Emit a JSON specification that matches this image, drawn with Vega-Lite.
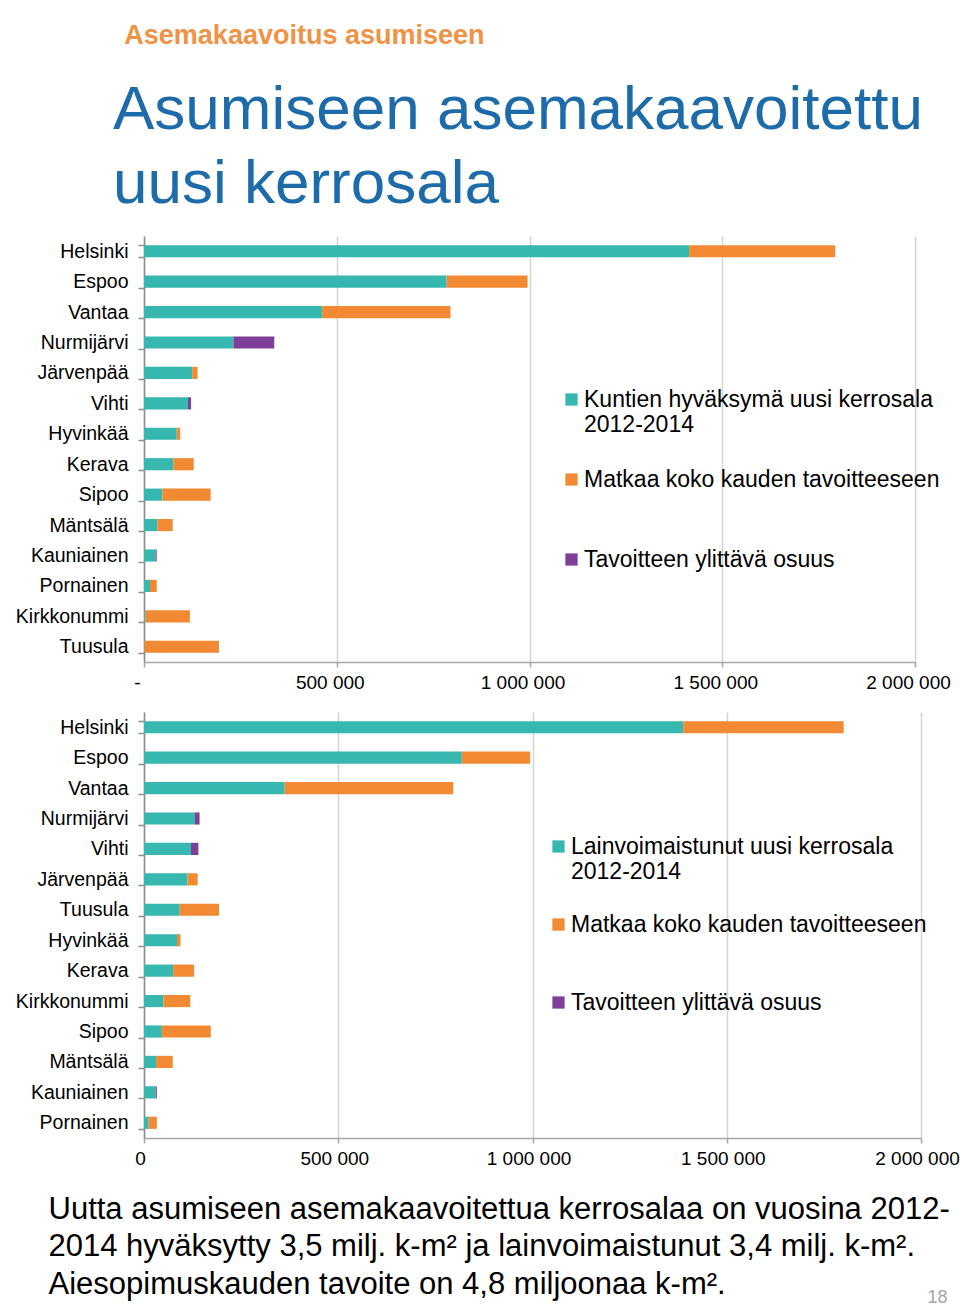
{
  "$schema": "https://vega.github.io/schema/vega-lite/v6.json",
  "background": "white",
  "padding": {"left": 15, "top": 22, "right": 0, "bottom": 0},
  "config": {
    "font": "Liberation Sans",
    "view": {"stroke": null},
    "locale": {"number": {"decimal": ",", "thousands": " ", "grouping": [3], "currency": ["", " €"]}},
    "axisY": {
      "title": null, "labelFontSize": 19.5, "labelColor": "#000000", "labelPadding": 10,
      "tickSize": 6, "tickColor": "#8C8C8C", "tickWidth": 1.5, "domainColor": "#8C8C8C", "domainWidth": 1.5,
      "tickBand": "extent", "grid": false
    },
    "axisX": {
      "labelFontSize": 19, "labelColor": "#000000", "labelPadding": 6, "tickSize": 5, "labelOverlap": false, "labelFlush": false,
      "tickColor": "#A6A6A6", "tickWidth": 1.5, "domainColor": "#A6A6A6", "domainWidth": 1.5,
      "grid": true, "gridColor": "#D4D4D4", "gridWidth": 1.5
    },
    "legend": {
      "orient": "none", "title": null, "labelFontSize": 23, "labelColor": "#000000",
      "symbolType": "square", "symbolSize": 150, "symbolStrokeWidth": 0, "labelLimit": 600,
      "labelOffset": 1, "rowPadding": 30, "gridAlign": "all"
    }
  },
  "title": {
    "text": "Asemakaavoitus asumiseen",
    "anchor": "start", "frame": "bounds", "dx": 109, "fontSize": 27, "fontWeight": "bold",
    "color": "#EF9346", "offset": 29
  },
  "datasets": {
    "hyvaksytty": [
      {"kunta": "Helsinki", "sarja": "Kuntien hyväksymä uusi kerrosala 2012-2014", "jarj": 1, "arvo": 1414000},
      {"kunta": "Helsinki", "sarja": "Matkaa koko kauden tavoitteeseen", "jarj": 2, "arvo": 379000},
      {"kunta": "Espoo", "sarja": "Kuntien hyväksymä uusi kerrosala 2012-2014", "jarj": 1, "arvo": 785000},
      {"kunta": "Espoo", "sarja": "Matkaa koko kauden tavoitteeseen", "jarj": 2, "arvo": 210000},
      {"kunta": "Vantaa", "sarja": "Kuntien hyväksymä uusi kerrosala 2012-2014", "jarj": 1, "arvo": 462000},
      {"kunta": "Vantaa", "sarja": "Matkaa koko kauden tavoitteeseen", "jarj": 2, "arvo": 333000},
      {"kunta": "Nurmijärvi", "sarja": "Kuntien hyväksymä uusi kerrosala 2012-2014", "jarj": 1, "arvo": 232000},
      {"kunta": "Nurmijärvi", "sarja": "Tavoitteen ylittävä osuus", "jarj": 3, "arvo": 106000},
      {"kunta": "Järvenpää", "sarja": "Kuntien hyväksymä uusi kerrosala 2012-2014", "jarj": 1, "arvo": 125000},
      {"kunta": "Järvenpää", "sarja": "Matkaa koko kauden tavoitteeseen", "jarj": 2, "arvo": 14000},
      {"kunta": "Vihti", "sarja": "Kuntien hyväksymä uusi kerrosala 2012-2014", "jarj": 1, "arvo": 114000},
      {"kunta": "Vihti", "sarja": "Tavoitteen ylittävä osuus", "jarj": 3, "arvo": 8000},
      {"kunta": "Hyvinkää", "sarja": "Kuntien hyväksymä uusi kerrosala 2012-2014", "jarj": 1, "arvo": 85000},
      {"kunta": "Hyvinkää", "sarja": "Matkaa koko kauden tavoitteeseen", "jarj": 2, "arvo": 9000},
      {"kunta": "Kerava", "sarja": "Kuntien hyväksymä uusi kerrosala 2012-2014", "jarj": 1, "arvo": 76000},
      {"kunta": "Kerava", "sarja": "Matkaa koko kauden tavoitteeseen", "jarj": 2, "arvo": 53000},
      {"kunta": "Sipoo", "sarja": "Kuntien hyväksymä uusi kerrosala 2012-2014", "jarj": 1, "arvo": 47500},
      {"kunta": "Sipoo", "sarja": "Matkaa koko kauden tavoitteeseen", "jarj": 2, "arvo": 125500},
      {"kunta": "Mäntsälä", "sarja": "Kuntien hyväksymä uusi kerrosala 2012-2014", "jarj": 1, "arvo": 34500},
      {"kunta": "Mäntsälä", "sarja": "Matkaa koko kauden tavoitteeseen", "jarj": 2, "arvo": 40000},
      {"kunta": "Kauniainen", "sarja": "Kuntien hyväksymä uusi kerrosala 2012-2014", "jarj": 1, "arvo": 30300},
      {"kunta": "Kauniainen", "sarja": "Tavoitteen ylittävä osuus", "jarj": 3, "arvo": 2700},
      {"kunta": "Pornainen", "sarja": "Kuntien hyväksymä uusi kerrosala 2012-2014", "jarj": 1, "arvo": 15600},
      {"kunta": "Pornainen", "sarja": "Matkaa koko kauden tavoitteeseen", "jarj": 2, "arvo": 17400},
      {"kunta": "Kirkkonummi", "sarja": "Kuntien hyväksymä uusi kerrosala 2012-2014", "jarj": 1, "arvo": 3400},
      {"kunta": "Kirkkonummi", "sarja": "Matkaa koko kauden tavoitteeseen", "jarj": 2, "arvo": 115600},
      {"kunta": "Tuusula", "sarja": "Kuntien hyväksymä uusi kerrosala 2012-2014", "jarj": 1, "arvo": 1000},
      {"kunta": "Tuusula", "sarja": "Matkaa koko kauden tavoitteeseen", "jarj": 2, "arvo": 193500}
    ],
    "lainvoimainen": [
      {"kunta": "Helsinki", "sarja": "Lainvoimaistunut uusi kerrosala 2012-2014", "jarj": 1, "arvo": 1388000},
      {"kunta": "Helsinki", "sarja": "Matkaa koko kauden tavoitteeseen", "jarj": 2, "arvo": 413000},
      {"kunta": "Espoo", "sarja": "Lainvoimaistunut uusi kerrosala 2012-2014", "jarj": 1, "arvo": 818000},
      {"kunta": "Espoo", "sarja": "Matkaa koko kauden tavoitteeseen", "jarj": 2, "arvo": 176000},
      {"kunta": "Vantaa", "sarja": "Lainvoimaistunut uusi kerrosala 2012-2014", "jarj": 1, "arvo": 362000},
      {"kunta": "Vantaa", "sarja": "Matkaa koko kauden tavoitteeseen", "jarj": 2, "arvo": 434000},
      {"kunta": "Nurmijärvi", "sarja": "Lainvoimaistunut uusi kerrosala 2012-2014", "jarj": 1, "arvo": 131000},
      {"kunta": "Nurmijärvi", "sarja": "Tavoitteen ylittävä osuus", "jarj": 3, "arvo": 12000},
      {"kunta": "Vihti", "sarja": "Lainvoimaistunut uusi kerrosala 2012-2014", "jarj": 1, "arvo": 121000},
      {"kunta": "Vihti", "sarja": "Tavoitteen ylittävä osuus", "jarj": 3, "arvo": 19000},
      {"kunta": "Järvenpää", "sarja": "Lainvoimaistunut uusi kerrosala 2012-2014", "jarj": 1, "arvo": 112000},
      {"kunta": "Järvenpää", "sarja": "Matkaa koko kauden tavoitteeseen", "jarj": 2, "arvo": 26000},
      {"kunta": "Tuusula", "sarja": "Lainvoimaistunut uusi kerrosala 2012-2014", "jarj": 1, "arvo": 92000},
      {"kunta": "Tuusula", "sarja": "Matkaa koko kauden tavoitteeseen", "jarj": 2, "arvo": 101000},
      {"kunta": "Hyvinkää", "sarja": "Lainvoimaistunut uusi kerrosala 2012-2014", "jarj": 1, "arvo": 85000},
      {"kunta": "Hyvinkää", "sarja": "Matkaa koko kauden tavoitteeseen", "jarj": 2, "arvo": 9000},
      {"kunta": "Kerava", "sarja": "Lainvoimaistunut uusi kerrosala 2012-2014", "jarj": 1, "arvo": 75000},
      {"kunta": "Kerava", "sarja": "Matkaa koko kauden tavoitteeseen", "jarj": 2, "arvo": 54000},
      {"kunta": "Kirkkonummi", "sarja": "Lainvoimaistunut uusi kerrosala 2012-2014", "jarj": 1, "arvo": 50000},
      {"kunta": "Kirkkonummi", "sarja": "Matkaa koko kauden tavoitteeseen", "jarj": 2, "arvo": 69000},
      {"kunta": "Sipoo", "sarja": "Lainvoimaistunut uusi kerrosala 2012-2014", "jarj": 1, "arvo": 46000},
      {"kunta": "Sipoo", "sarja": "Matkaa koko kauden tavoitteeseen", "jarj": 2, "arvo": 126000},
      {"kunta": "Mäntsälä", "sarja": "Lainvoimaistunut uusi kerrosala 2012-2014", "jarj": 1, "arvo": 31000},
      {"kunta": "Mäntsälä", "sarja": "Matkaa koko kauden tavoitteeseen", "jarj": 2, "arvo": 43000},
      {"kunta": "Kauniainen", "sarja": "Lainvoimaistunut uusi kerrosala 2012-2014", "jarj": 1, "arvo": 30000},
      {"kunta": "Kauniainen", "sarja": "Tavoitteen ylittävä osuus", "jarj": 3, "arvo": 3000},
      {"kunta": "Pornainen", "sarja": "Lainvoimaistunut uusi kerrosala 2012-2014", "jarj": 1, "arvo": 12000},
      {"kunta": "Pornainen", "sarja": "Matkaa koko kauden tavoitteeseen", "jarj": 2, "arvo": 21000}
    ]
  },
  "spacing": 10,
  "resolve": {"scale": {"color": "independent", "x": "independent", "y": "independent"}},
  "vconcat": [
    {
      "title": {
        "text": ["Asumiseen asemakaavoitettu", "uusi kerrosala"],
        "anchor": "start", "frame": "group", "dx": -31, "fontSize": 62, "lineHeight": 74,
        "fontWeight": "normal", "color": "#1E6BAA", "offset": 10
      },
      "width": 771,
      "height": 426,
      "data": {"name": "hyvaksytty"},
      "mark": {"type": "bar"},
      "encoding": {
        "y": {
          "field": "kunta", "type": "nominal",
          "sort": ["Helsinki", "Espoo", "Vantaa", "Nurmijärvi", "Järvenpää", "Vihti", "Hyvinkää", "Kerava", "Sipoo", "Mäntsälä", "Kauniainen", "Pornainen", "Kirkkonummi", "Tuusula"],
          "scale": {"paddingInner": 0.6, "paddingOuter": 0.3}
        },
        "x": {
          "field": "arvo", "type": "quantitative", "stack": "zero",
          "scale": {"domain": [0, 2000000], "nice": false},
          "axis": {"title": null, "values": [0, 500000, 1000000, 1500000, 2000000], "format": ",d", "labelOffset": -7, "labelExpr": "datum.value == 0 ? '-' : datum.label"}
        },
        "color": {
          "field": "sarja", "type": "nominal",
          "scale": {
            "domain": ["Kuntien hyväksymä uusi kerrosala 2012-2014", "Matkaa koko kauden tavoitteeseen", "Tavoitteen ylittävä osuus"],
            "range": ["#36B7B0", "#F28A33", "#7E3F98"]
          },
          "legend": {
            "legendX": 416, "legendY": 152, "rowPadding": 31,
            "labelExpr": "indexof(datum.label, '2012-2014') > 0 ? [replace(datum.label, ' 2012-2014', ''), '2012-2014'] : datum.label"
          }
        },
        "order": {"field": "jarj", "type": "quantitative"}
      }
    },
    {
      "width": 777,
      "height": 426,
      "data": {"name": "lainvoimainen"},
      "mark": {"type": "bar"},
      "encoding": {
        "y": {
          "field": "kunta", "type": "nominal",
          "sort": ["Helsinki", "Espoo", "Vantaa", "Nurmijärvi", "Vihti", "Järvenpää", "Tuusula", "Hyvinkää", "Kerava", "Kirkkonummi", "Sipoo", "Mäntsälä", "Kauniainen", "Pornainen"],
          "scale": {"paddingInner": 0.6, "paddingOuter": 0.3},
          "axis": {
            "title": "18", "titleAngle": 0, "titleX": 793, "titleY": 585, "titleAlign": "center",
            "titleBaseline": "middle", "titleFontSize": 18, "titleFontWeight": "normal", "titleColor": "#A6A6A6"
          }
        },
        "x": {
          "field": "arvo", "type": "quantitative", "stack": "zero",
          "scale": {"domain": [0, 2000000], "nice": false},
          "axis": {
            "values": [0, 500000, 1000000, 1500000, 2000000], "format": ",d", "labelOffset": -4,
            "title": ["Uutta asumiseen asemakaavoitettua kerrosalaa on vuosina 2012-", "2014 hyväksytty 3,5 milj. k-m² ja lainvoimaistunut 3,4 milj. k-m².", "Aiesopimuskauden tavoite on 4,8 miljoonaa k-m²."],
            "titleX": -96, "titleY": 56, "titleAlign": "left", "titleBaseline": "top", "titleAnchor": "start",
            "titleFontSize": 31, "titleLineHeight": 37.5, "titleFontWeight": "normal", "titleColor": "#000000"
          }
        },
        "color": {
          "field": "sarja", "type": "nominal",
          "scale": {
            "domain": ["Lainvoimaistunut uusi kerrosala 2012-2014", "Matkaa koko kauden tavoitteeseen", "Tavoitteen ylittävä osuus"],
            "range": ["#36B7B0", "#F28A33", "#7E3F98"]
          },
          "legend": {
            "legendX": 403, "legendY": 123, "rowPadding": 29,
            "labelExpr": "indexof(datum.label, '2012-2014') > 0 ? [replace(datum.label, ' 2012-2014', ''), '2012-2014'] : datum.label"
          }
        },
        "order": {"field": "jarj", "type": "quantitative"}
      }
    }
  ]
}
